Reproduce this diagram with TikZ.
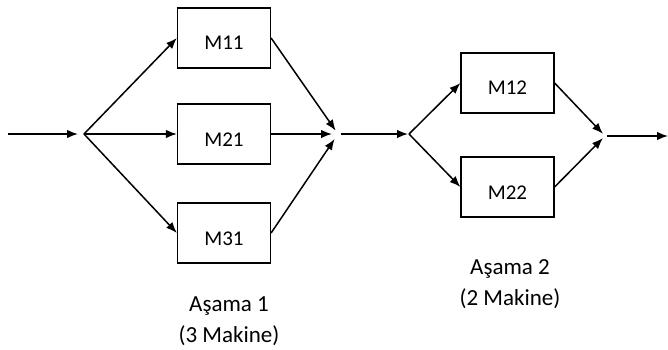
\documentclass[tikz,border=0pt]{standalone}
\usepackage{fontspec}
\setmainfont{Carlito}
\usetikzlibrary{arrows.meta,positioning}

\newcommand{\mtext}[1]{\raisebox{-12pt}[0pt][0pt]{#1}}

\tikzset{
  machine/.style={draw,line width=1.2pt,minimum width=93pt,minimum height=60pt,
    inner sep=0pt,font=\fontsize{21}{24}\selectfont},
  stage/.style={align=center,font=\fontsize{23}{31}\selectfont},
  flow/.style={-{Latex[length=11pt,width=8.5pt]},line width=1.5pt},
}

\begin{document}
\begin{tikzpicture}[x=1pt,y=-1pt,on grid]
   \useasboundingbox (0,0) rectangle (668,350);
   % stage 1
   \node [machine] (m21) at (224,134) {\mtext{M21}};
   \node [machine, above=96pt of m21] (m11) {\mtext{M11}};
   \node [machine, below=99pt of m21] (m31) {\mtext{M31}};
   % stage 2
   \node [machine] (m12) at (507.5,83) {\mtext{M12}};
   \node [machine, below=104pt of m12] (m22) {\mtext{M22}};
   \node [stage] (st1) at (229,321) {Aşama 1\\(3 Makine)};
   \node [stage] (st2) at (510,284) {Aşama 2\\(2 Makine)};
   \coordinate (in) at (8,134);
   \coordinate (split1) at (84,134);
   \coordinate (join1) at (338,134);
   \coordinate (split2) at (409,134);
   \coordinate (join2) at (605,136);
   \coordinate (out) at (668,136);
    \path[flow]
    (in) edge[shorten >=6pt] (split1)
    (split1) edge (m11.west)
             edge (m21.west)
             edge (m31.west)
    (m11.east) edge[shorten >=4pt] (join1)
    (m21.east) edge[shorten >=6pt] (join1)
    (m31.east) edge[shorten >=6pt] (join1)
    (join1) edge[shorten <=3pt,shorten >=1pt] (split2)
    (split2) edge (m12.west)
             edge (m22.west)
    (m12.east) edge[shorten >=3pt] (join2)
    (m22.east) edge[shorten >=3pt] (join2)
    (join2) edge[shorten <=2pt] (out);
\end{tikzpicture}
\end{document}
